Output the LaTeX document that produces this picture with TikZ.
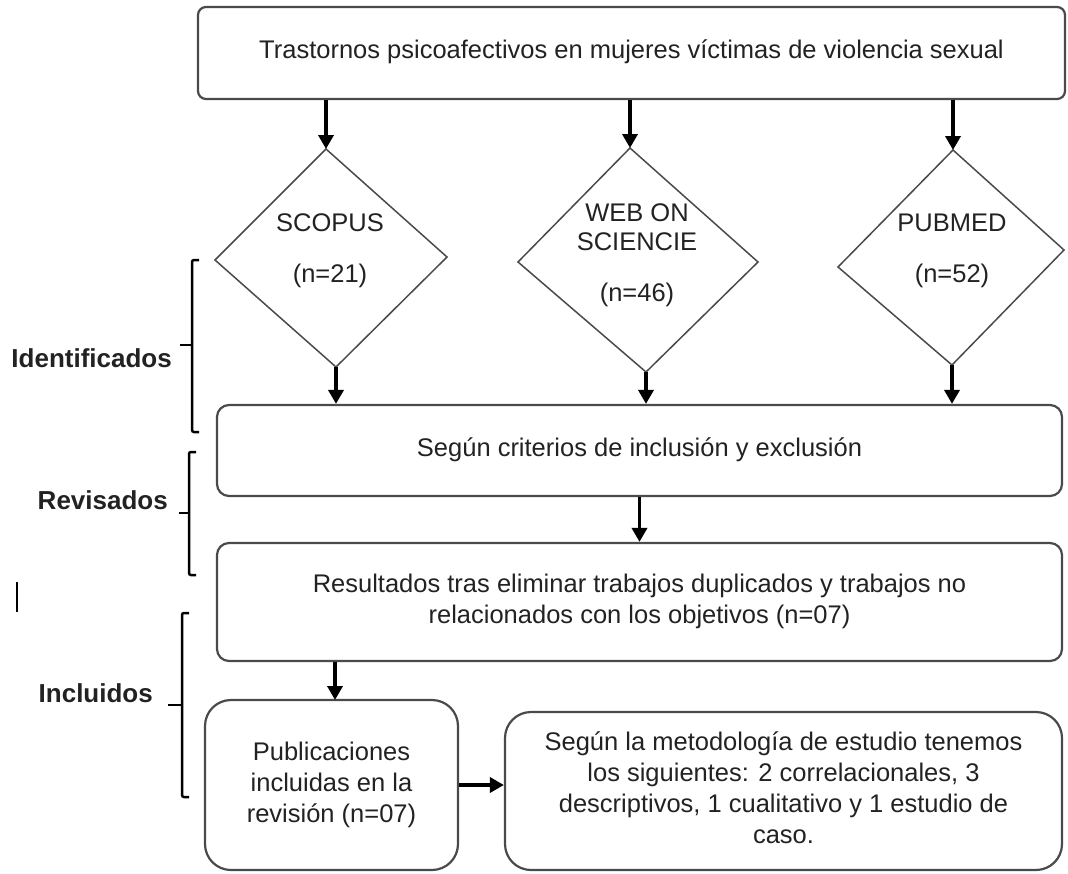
\documentclass[tikz,border=0pt]{standalone}
\usepackage{fontspec}
\setmainfont{Liberation Sans}
\usetikzlibrary{arrows.meta}
\definecolor{txt}{HTML}{222222}
\definecolor{edge}{HTML}{4a4a4a}
\tikzset{
  box/.style={draw=edge, line width=2.2pt, rounded corners=#1, inner sep=0pt, align=center,
    text=txt, font=\fontsize{25.5}{31}\selectfont},
  box/.default=12pt,
  diam/.style={draw=edge, line width=1.5pt, line join=miter},
  dtext/.style={align=center, text=txt, inner sep=0pt, font=\fontsize{25.5}{29}\selectfont},
  arr/.style={line width=3.5pt, -{Triangle[width=15pt,length=14pt]}},
  brk/.style={line width=2.5pt, rounded corners=2pt},
  lab/.style={anchor=east, inner sep=0pt, font=\bfseries\fontsize{26}{30}\selectfont, text=txt}
}
\begin{document}
\begin{tikzpicture}[x=1pt,y=-1pt]
\useasboundingbox (0,0) rectangle (1068,873);

% top box
\node[box=8pt, minimum width=867pt, minimum height=92pt] (top) at (631.5,53)
  {\raisebox{7pt}{Trastornos psicoafectivos en mujeres víctimas de violencia sexual}};

% diamonds
\coordinate (d1t) at (326,149); \coordinate (d1r) at (447,257);
\coordinate (d1b) at (336,367); \coordinate (d1l) at (215,260);
\coordinate (d2t) at (630,148); \coordinate (d2r) at (758,262);
\coordinate (d2b) at (646,372); \coordinate (d2l) at (518,262);
\coordinate (d3t) at (953,150); \coordinate (d3r) at (1064,250);
\coordinate (d3b) at (952,365); \coordinate (d3l) at (838,267);
\draw[diam] (d1t) -- (d1r) -- (d1b) -- (d1l) -- cycle;
\draw[diam] (d2t) -- (d2r) -- (d2b) -- (d2l) -- cycle;
\draw[diam] (d3t) -- (d3r) -- (d3b) -- (d3l) -- cycle;
\node[dtext] (t1) at (330,251) {SCOPUS\\[22pt](n=21)};
\node[dtext] (t2) at (637,255) {WEB ON\\SCIENCIE\\[22pt](n=46)};
\node[dtext] (t3) at (952,251) {PUBMED\\[22pt](n=52)};

% boxes
\node[box, minimum width=845pt, minimum height=91pt] (b2) at (639.5,450.5)
  {\raisebox{6pt}{Según criterios de inclusión y exclusión}};
\node[box, minimum width=845pt, minimum height=118pt] (b3) at (639.5,602)
  {\raisebox{5pt}{\begin{tabular}{@{}c@{}}Resultados tras eliminar trabajos duplicados y trabajos no\\relacionados con los objetivos (n=07)\end{tabular}}};
\node[box=26pt, minimum width=253pt, minimum height=170pt] (b4) at (331.5,785)
  {\raisebox{6pt}{\begin{tabular}{@{}c@{}}Publicaciones\\incluidas en la\\revisión (n=07)\end{tabular}}};
\node[box=26pt, minimum width=557pt, minimum height=158pt] (b5) at (783.5,791)
  {\begin{tabular}{@{}c@{}}Según la metodología de estudio tenemos\\los siguientes: 2 correlacionales, 3\\descriptivos, 1 cualitativo y 1 estudio de\\caso.\end{tabular}};

% arrows
\draw[arr] (top.south -| d1t) -- (d1t);
\draw[arr] (top.south -| d2t) -- (d2t);
\draw[arr] (top.south -| d3t) -- (d3t);
\draw[arr] (d1b) -- (d1b |- b2.north);
\draw[arr] (d2b) -- (d2b |- b2.north);
\draw[arr] (d3b) -- (d3b |- b2.north);
\draw[arr] (b2.south) -- (b3.north);
\draw[arr] (b3.south -| 335,0) -- (335,700);
\draw[arr] (b4.east) -- (b4.east -| b5.west);

% brackets
\draw[brk] (199,260) -- (192,260) -- (192,432) -- (199,432);
\draw[brk] (192,345) -- (180,345);
\draw[brk] (196,452) -- (189,452) -- (189,575) -- (196,575);
\draw[brk] (189,513) -- (179,513);
\draw[brk] (189,613) -- (182,613) -- (182,797) -- (189,797);
\draw[brk] (182,705) -- (168,705);
\draw[line width=2.5pt] (17,582) -- (17,612);

% labels
\node[lab] (l1) at (172,358) {Identificados};
\node[lab] (l2) at (168,500) {Revisados};
\node[lab] (l3) at (153,693) {Incluidos};
\end{tikzpicture}
\end{document}
